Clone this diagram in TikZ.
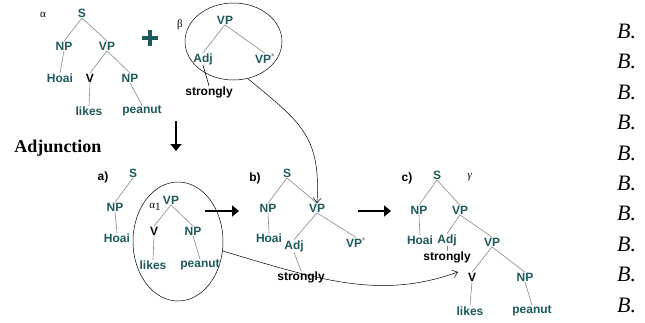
\documentclass[tikz,border=0pt]{standalone}
\usepackage{fontspec}
\setmainfont{Liberation Serif}
\newfontfamily\labfont{Liberation Sans}
\usetikzlibrary{arrows.meta,shapes.geometric}
\definecolor{tl}{HTML}{1E5A5A}
\definecolor{edgegray}{HTML}{8A8A8A}
\tikzset{
  lab/.style={font=\labfont\bfseries\fontsize{12}{12}\selectfont, text=tl, inner sep=0.5pt},
  blk/.style={lab, text=black},
  grk/.style={font=\fontsize{11}{11}\selectfont, inner sep=0pt},
  edge/.style={draw=edgegray, line width=0.6pt},
  bigarrow/.style={line width=2.6pt, -{Triangle[length=7pt,width=11pt]}},
  thinarrow/.style={line width=0.5pt, -{Straight Barb[length=5pt,width=8pt]}},
  ring/.style={ellipse, draw, line width=0.5pt, inner sep=0pt},
  bmark/.style={font=\itshape\fontsize{22}{22}\selectfont, anchor=base west, inner sep=0pt},
}
\begin{document}
\begin{tikzpicture}[x=1pt,y=-1pt]
\useasboundingbox (0,0) rectangle (645,322);
\fill[white] (0,0) rectangle (645,322);
% ---- alpha tree
\node[grk] (alpha) at (43,15) {α};
\node[lab] (s1) at (82,13) {S};
\node[lab] (np1) at (64,46) {NP};
\node[lab] (vp1) at (107,46) {VP};
\node[lab] (hoai1) at (60,78) {Hoai};
\node[blk] (v1) at (90,78) {V};
\node[lab] (np1b) at (130,78) {NP};
\node[lab] (likes1) at (89,111) {likes};
\node[lab] (pea1) at (142,111) {peanut};
\draw[edge] (s1.south) -- (np1.north);
\draw[edge] (s1.south) -- (vp1.north);
\draw[edge] (np1.south) -- (hoai1.north);
\draw[edge] (vp1.south) -- (v1.north);
\draw[edge] (vp1.south) -- (np1b.north);
\draw[edge] (v1.south) -- (likes1.north);
\draw[edge] (np1b.south) -- (pea1.north);
% plus
\coordinate (plusc) at (150,38);
\draw[tl, line width=4pt] ([xshift=-8pt]plusc) -- ([xshift=8pt]plusc);
\draw[tl, line width=4pt] ([yshift=-8pt]plusc) -- ([yshift=8pt]plusc);
% ---- beta tree
\node[ring, minimum width=97pt, minimum height=77pt] (bell) at (233.5,41.5) {};
\node[grk] (beta) at (180,25) {β};
\node[lab] (vp2) at (225,20) {VP};
\node[lab] (adj2) at (203,59) {Adj};
\node[lab] (vps2) at (265,59) {VP\textsuperscript{\textcolor{edgegray}{*}}};
\node[blk] (str2) at (209,92) {strongly};
\draw[edge] (vp2.south) -- (adj2.north);
\draw[edge] (vp2.south) -- (vps2.north);
\draw[line width=0.6pt] (adj2.south) -- (str2.north);
% down arrow and title
\coordinate (dtop) at (176,121);
\coordinate (dbot) at (176,151);
\draw[bigarrow] (dtop) -- (dbot);
\node[font=\bfseries\fontsize{18}{18}\selectfont, inner sep=0pt] (adjt) at (58,148) {Adjunction};
% ---- a)
\node[blk] (la) at (103,177) {a)};
\node[lab] (s3) at (133,173) {S};
\node[lab] (np3) at (115,207) {NP};
\node[lab] (hoai3) at (117,238) {Hoai};
\node[ring, minimum width=90pt, minimum height=119pt] (aell) at (178,241.5) {};
\node[grk] (alpha1) at (155,207) {α\raisebox{-2pt}{1}};
\node[lab] (vp3) at (171,200) {VP};
\node[blk] (v3) at (154,231) {V};
\node[lab] (np3b) at (193,231) {NP};
\node[lab] (likes3) at (153,265) {likes};
\node[lab] (pea3) at (200,265) {peanut};
\draw[edge] (s3.south) -- (np3.north);
\draw[edge] (np3.south) -- (hoai3.north);
\draw[edge] (vp3.south) -- (v3.north);
\draw[edge] (vp3.south) -- (np3b.north);
\draw[edge] (v3.south) -- (likes3.north);
\draw[edge] (np3b.south) -- (pea3.north);
\coordinate (ab1) at (205,211);
\coordinate (ab2) at (239,211);
\draw[bigarrow] (ab1) -- (ab2);
% ---- b)
\node[blk] (lb) at (255,178) {b)};
\node[lab] (s4) at (287,173) {S};
\node[lab] (np4) at (268,208) {NP};
\node[lab] (vp4) at (317,208) {VP};
\node[lab] (hoai4) at (269,238) {Hoai};
\node[lab] (adj4) at (294,246) {Adj};
\node[lab] (vps4) at (356,243) {VP\textsuperscript{\textcolor{edgegray}{*}}};
\node[blk] (str4) at (301,277) {strongly};
\draw[edge] (s4.south) -- (np4.north);
\draw[edge] (s4.south) -- (vp4.north);
\draw[edge] (np4.south) -- (hoai4.north);
\draw[edge] (vp4.south) -- (adj4.north);
\draw[edge] (vp4.south) -- (vps4.north);
\draw[edge] (adj4.south) -- (str4.north);
\coordinate (bc1) at (358,211);
\coordinate (bc2) at (391,211);
\draw[bigarrow] (bc1) -- (bc2);
% ---- c)
\node[blk] (lc) at (407,178) {c)};
\node[lab] (s5) at (437,175) {S};
\node[grk] (gamma) at (470,177) {\textit{γ}};
\node[lab] (np5) at (419,210) {NP};
\node[lab] (vp5) at (460,210) {VP};
\node[lab] (hoai5) at (420,240) {Hoai};
\node[lab] (adj5) at (447,240) {Adj};
\node[lab] (vp5b) at (492,242) {VP};
\node[blk] (str5) at (447,257) {strongly};
\node[blk] (v5) at (472,277) {V};
\node[lab] (np5b) at (525,277) {NP};
\node[lab] (likes5) at (470,311) {likes};
\node[lab] (pea5) at (532,311) {peanut};
\draw[edge] (s5.south) -- (np5.north);
\draw[edge] (s5.south) -- (vp5.north);
\draw[edge] (np5.south) -- (hoai5.north);
\draw[edge] (vp5.south) -- (adj5.north);
\draw[edge] (vp5.south) -- (vp5b.north);
\draw[edge] (adj5.south) -- (str5.north);
\draw[edge] (vp5b.south) -- (v5.north);
\draw[edge] (vp5b.south) -- (np5b.north);
\draw[edge] (v5.south) -- (likes5.north);
\draw[edge] (np5b.south) -- (pea5.north);
% ---- curved connectors
\draw[thinarrow] (bell.-69) .. controls (300,122) and (321,135) .. (vp4.north);
\coordinate (cend) at (458,272);
\draw[thinarrow] (aell.-12) .. controls (320,280) and (380,300) .. (cend);
% ---- B. column
\foreach \i in {0,...,9}{
  \node[bmark] (b\i) at (617,{38.5+30.4*\i}) {B.};
}
\end{tikzpicture}
\end{document}
